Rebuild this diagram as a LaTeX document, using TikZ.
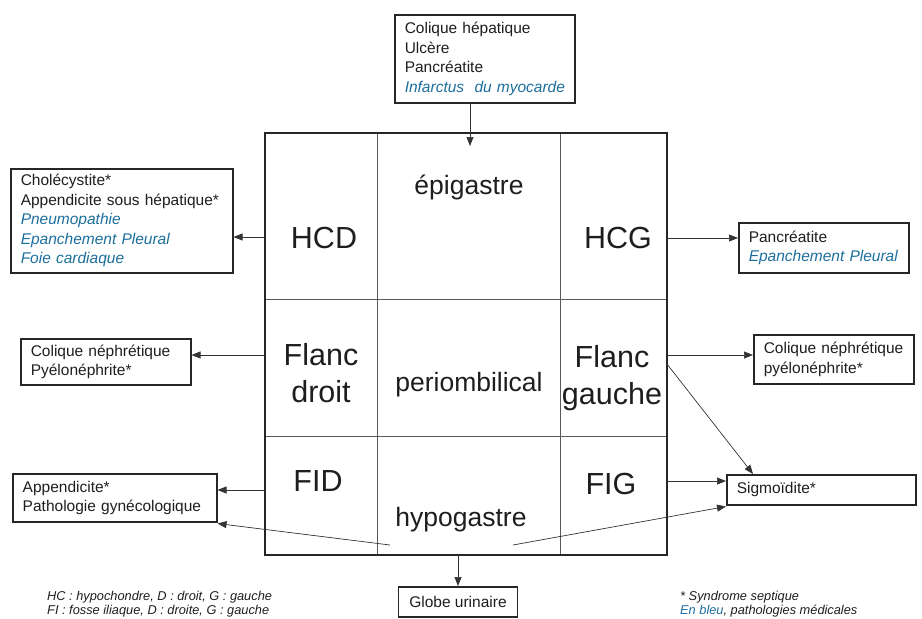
\documentclass[tikz,border=0pt]{standalone}
\usepackage{fontspec}
\setmainfont{Liberation Sans}
\usepackage{xcolor}
\usepackage{tikz}
\usetikzlibrary{positioning, arrows.meta, calc}
\definecolor{medblue}{RGB}{28,110,156}
\definecolor{ink}{RGB}{30,30,30}
\newcommand{\medic}[1]{\textcolor{medblue}{\textit{\mbox{#1}}}}
\tikzset{
    cell/.style={
        rectangle,
        draw=black!65,
        line width=0.8pt,
        inner sep=0pt,
        outer sep=0pt
    },
    region/.style={
        text=ink,
        font=\fontsize{30.5}{37}\selectfont,
        align=center
    },
    zone/.style={
        text=ink,
        font=\fontsize{26.5}{30}\selectfont
    },
    sickbox/.style={
        rectangle,
        draw=black!85,
        line width=1.5pt,
        anchor=north west,
        align=left,
        inner xsep=10pt,
        inner ysep=0pt,
        text=ink,
        font=\fontsize{15.5}{19.5}\selectfont
    },
    arrow/.style={
        -{Triangle[length=9pt,width=7pt]},
        draw=black!80,
        line width=0.7pt
    },
    legend/.style={
        anchor=north west,
        align=left,
        inner sep=0pt,
        text=ink,
        font=\fontsize{12.8}{14}\selectfont\itshape
    }
}

\begin{document}
\begin{tikzpicture}[x=1pt, y=-1pt, node distance=0pt]
    \path[use as bounding box, clip] (0,0) rectangle (922,619);

    % grid of abdominal regions
    \node[cell, anchor=north west, minimum width=112, minimum height=166] (hcd) at (265,133) {};
    \node[cell, right=of hcd, minimum width=183, minimum height=166] (epi) {};
    \node[cell, right=of epi, minimum width=107, minimum height=166] (hcg) {};
    \node[cell, below=of hcd, minimum width=112, minimum height=137] (fd) {};
    \node[cell, right=of fd, minimum width=183, minimum height=137] (peri) {};
    \node[cell, right=of peri, minimum width=107, minimum height=137] (fg) {};
    \node[cell, below=of fd, minimum width=112, minimum height=119] (fid) {};
    \node[cell, right=of fid, minimum width=183, minimum height=119] (hypo) {};
    \node[cell, right=of hypo, minimum width=107, minimum height=119] (fig) {};
    \draw[black!85, line width=1.8pt] (hcd.north west) rectangle (fig.south east);

    \node[region] (lhcd) at (324,238) {HCD};
    \node[region] (lhcg) at (618,238) {HCG};
    \node[region] (lfd) at (321,373) {Flanc\\droit};
    \node[region] (lfg) at (612,378) {Flanc\\gauche};
    \node[region] (lfid) at (318,481) {FID};
    \node[region] (lfig) at (611,484) {FIG};
    \node[zone] (lepi) at (469,187) {épigastre};
    \node[zone] (lperi) at (469,385) {periombilical};
    \node[zone] (lhypo) at (461,520) {hypogastre};

    % pathologies
    \node[sickbox, text width=160, minimum height=88] (top) at (394,14)
        {Colique hépatique\\Ulcère\\Pancréatite\\\medic{Infarctus~ du myocarde}};
    \node[sickbox, text width=202, minimum height=104] (lhc) at (10,168)
        {Cholécystite*\\Appendicite sous hépatique*\\\medic{Pneumopathie}\\\medic{Epanchement Pleural}\\\medic{Foie cardiaque}};
    \node[sickbox, text width=150, minimum height=50] (rhc) at (738,222)
        {Pancréatite\\\medic{Epanchement Pleural}};
    \node[sickbox, text width=150, minimum height=46] (lfl) at (20,338)
        {Colique néphrétique\\Pyélonéphrite*};
    \node[sickbox, text width=140, minimum height=49] (rfl) at (753,334)
        {Colique néphrétique\\pyélonéphrite*};
    \node[sickbox, text width=184, minimum height=48] (lfi) at (12,473)
        {Appendicite*\\Pathologie gynécologique};
    \node[sickbox, text width=169, minimum height=30] (sigm) at (726,474)
        {Sigmoïdite*};
    \node[sickbox, anchor=north, align=center, minimum width=119, minimum height=30] (globe) at (458,586)
        {Globe urinaire};

    % arrows
    \coordinate (ctop) at (470,102);
    \coordinate (c1) at (265,237);
    \coordinate (c2) at (667,238);
    \coordinate (c3) at (265,355);
    \coordinate (c4) at (667,355);
    \coordinate (c5) at (265,490);
    \coordinate (c6) at (390,545);
    \coordinate (c7) at (667,481);
    \coordinate (c8) at (667,364);
    \coordinate (c9) at (513,545);
    \draw[arrow] (ctop) -- (470,146);
    \draw[arrow] (c1) -- (c1 -| lhc.east);
    \draw[arrow] (c2) -- (c2 -| rhc.west);
    \draw[arrow] (c3) -- (c3 -| lfl.east);
    \draw[arrow] (c4) -- (c4 -| rfl.west);
    \draw[arrow] (c5) -- (c5 -| lfi.east);
    \draw[arrow] (c6) -- ([yshift=-1pt]lfi.south east);
    \draw[arrow] (c7) -- (c7 -| sigm.west);
    \draw[arrow] (c8) -- ([xshift=27pt]sigm.north west);
    \draw[arrow] (c9) -- ([yshift=-1pt]sigm.south west);
    \draw[arrow] (hypo.south -| globe.north) -- (globe.north);

    % legends
    \node[legend] (abbr) at (47,591)
        {HC : hypochondre, D : droit, G : gauche\\FI : fosse iliaque, D : droite, G : gauche};
    \node[legend] (key) at (680,591)
        {* Syndrome septique\\\textcolor{medblue}{En bleu}, pathologies médicales};
\end{tikzpicture}
\end{document}
